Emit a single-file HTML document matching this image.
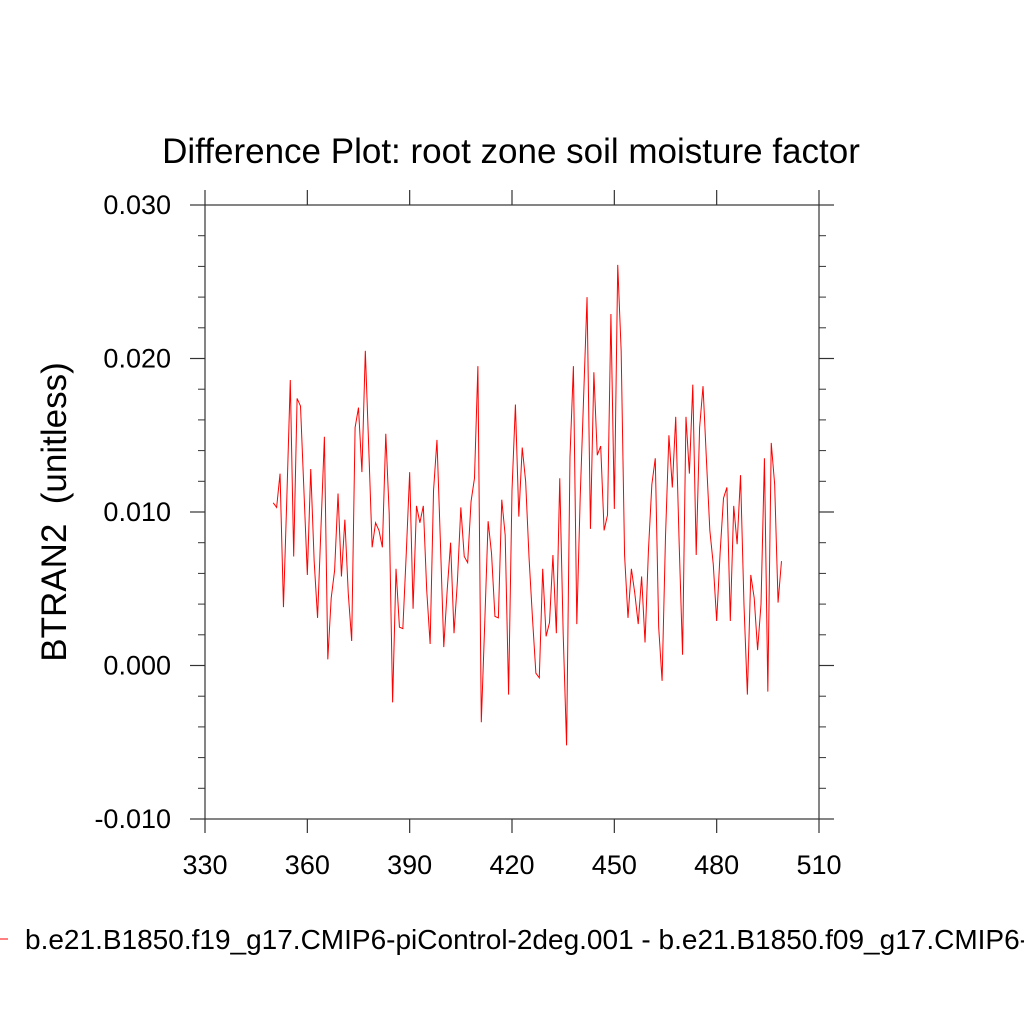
<!DOCTYPE html>
<html><head><meta charset="utf-8"><style>
html,body{margin:0;padding:0;background:#fff;overflow:hidden}
svg{display:block;font-family:"Liberation Sans",Arial,sans-serif}
</style></head><body>
<svg id="chart" width="1024" height="1024" viewBox="0 0 1024 1024" xmlns="http://www.w3.org/2000/svg">
<rect width="1024" height="1024" fill="#fff"/>
<text x="511" y="163" font-size="35" text-anchor="middle" fill="#000">Difference Plot: root zone soil moisture factor</text>
<text transform="translate(66,512) rotate(-90)" font-size="35" text-anchor="middle" fill="#000" style="white-space:pre">BTRAN2  (unitless)</text>
<g id="axes"></g>
<g id="series"></g>
<line x1="0" y1="939" x2="8" y2="939" stroke="#f00" stroke-width="1"/>
<text x="25" y="949" font-size="28" fill="#000">b.e21.B1850.f19_g17.CMIP6-piControl-2deg.001 - b.e21.B1850.f09_g17.CMIP6-piControl.001</text>
</svg>
<script>
const startYear = 350;
const values = [0.0106,0.0103,0.0125,0.0038,0.011,0.0186,0.0071,0.0174,0.0169,0.0114,
0.0059,0.0128,0.0068,0.0031,0.009,0.0149,0.0004,0.0044,0.0062,0.0112,
0.0058,0.0095,0.0047,0.0016,0.0155,0.0168,0.0126,0.0205,0.0142,0.0077,
0.0093,0.0088,0.0077,0.0151,0.0099,-0.0024,0.0063,0.0025,0.0024,0.0073,
0.0126,0.0037,0.0104,0.0093,0.0104,0.0049,0.0014,0.0114,0.0147,0.0081,
0.0012,0.0049,0.008,0.0021,0.0055,0.0103,0.0071,0.0067,0.0107,0.0122,
0.0195,-0.0037,0.0027,0.0094,0.0073,0.0032,0.0031,0.0108,0.0085,-0.0019,
0.0114,0.017,0.0097,0.0142,0.012,0.007,0.0031,-0.0005,-0.0008,0.0063,
0.0019,0.0028,0.0072,0.0021,0.0122,0.0021,-0.0052,0.0136,0.0195,0.0027,
0.011,0.0175,0.024,0.0089,0.0191,0.0137,0.0143,0.0088,0.0098,0.0229,
0.0102,0.0261,0.0205,0.0072,0.0031,0.0063,0.0047,0.0027,0.0058,0.0015,
0.0075,0.0118,0.0135,0.0025,-0.001,0.0084,0.015,0.0116,0.0162,0.008,
0.0007,0.0162,0.0125,0.0183,0.0072,0.0155,0.0182,0.0134,0.0088,0.0066,
0.0029,0.0073,0.0109,0.0116,0.0029,0.0104,0.0079,0.0124,0.004,-0.0019,
0.0059,0.0044,0.001,0.004,0.0135,-0.0017,0.0145,0.0118,0.0041,0.0068];
const xTicks = [330,360,390,420,450,480,510];
const yTicks = [-0.010,0.000,0.010,0.020,0.030];
const yTickLabels = ["-0.010","0.000","0.010","0.020","0.030"];

const X0=205,X1=819,Y0=819,Y1=205;
const xMin=330,xMax=510,yMin=-0.01,yMax=0.03;
const sx=v=>X0+(v-xMin)/(xMax-xMin)*(X1-X0);
const sy=v=>Y0-(v-yMin)/(yMax-yMin)*(Y0-Y1);
const NS="http://www.w3.org/2000/svg";
const axes=document.getElementById('axes');
function mk(tag,attrs,parent){const e=document.createElementNS(NS,tag);for(const k in attrs)e.setAttribute(k,attrs[k]);parent.appendChild(e);return e;}
const frame=mk('rect',{x:X0,y:Y1,width:X1-X0,height:Y0-Y1,fill:'none',stroke:'#333','stroke-width':1.2},axes);


xTicks.forEach(t=>{
  const x=sx(t);
  const a=mk('line',{x1:x,y1:Y0,x2:x,y2:Y0+14,stroke:'#333','stroke-width':1.2},axes);
  
  
  const b=mk('line',{x1:x,y1:Y1,x2:x,y2:Y1-15,stroke:'#333','stroke-width':1.2},axes);
  
  
  const l=mk('text',{x:x,y:Y0+55,'font-size':27,'text-anchor':'middle',fill:'#000'},axes);
  l.textContent=t;
  
  
});
yTicks.forEach((t,i)=>{
  const y=sy(t);
  const a=mk('line',{x1:X0-15,y1:y,x2:X0,y2:y,stroke:'#333','stroke-width':1.2},axes);
  
  
  const b=mk('line',{x1:X1,y1:y,x2:X1+15,y2:y,stroke:'#333','stroke-width':1.2},axes);
  
  
  const l=mk('text',{x:X0-34,y:y+9,'font-size':27,'text-anchor':'end',fill:'#000'},axes);
  l.textContent=yTickLabels[i];
  
  
  if(i<yTicks.length-1){
    for(let k=1;k<5;k++){
      const yy=sy(t+k*0.002);
      const m=mk('line',{x1:X0-7,y1:yy,x2:X0,y2:yy,stroke:'#333','stroke-width':1},axes);
      
      
      const m2=mk('line',{x1:X1,y1:yy,x2:X1+7,y2:yy,stroke:'#333','stroke-width':1},axes);
      
      
    }
  }
});
const pts=values.map((v,i)=>sx(startYear+i).toFixed(2)+','+sy(v).toFixed(2)).join(' ');
const line=mk('polyline',{points:pts,fill:'none',stroke:'#f00','stroke-width':1,'stroke-linejoin':'miter'},document.getElementById('series'));


</script>
</body></html>
